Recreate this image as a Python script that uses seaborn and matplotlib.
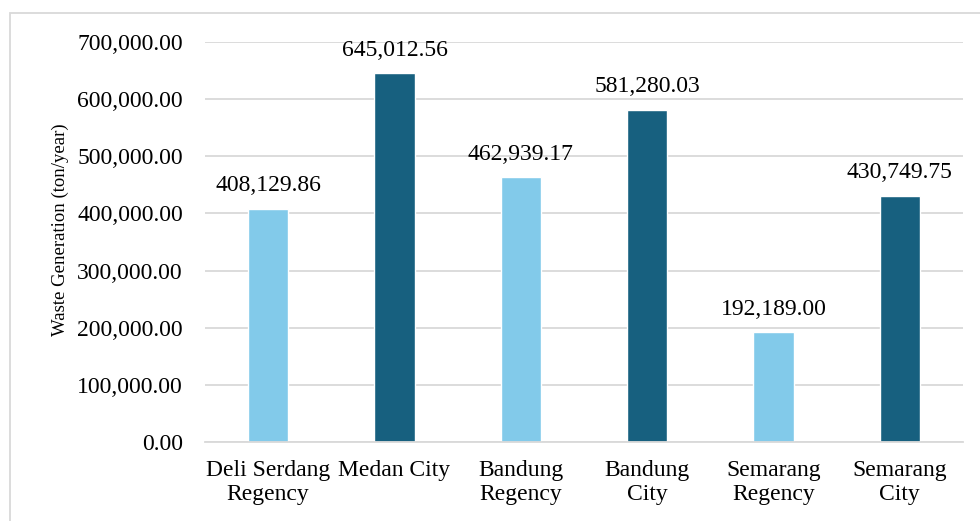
import pandas as pd
import seaborn as sns
import matplotlib.pyplot as plt
from matplotlib.patches import Rectangle

# waste generation per region (ton/year)
regions = ['Deli Serdang\nRegency', 'Medan City', 'Bandung\nRegency',
           'Bandung\nCity', 'Semarang\nRegency', 'Semarang\nCity']
waste = [408129.86, 645012.56, 462939.17, 581280.03, 192189.00, 430749.75]
kind = ['Regency', 'City', 'Regency', 'City', 'Regency', 'City']

df = pd.DataFrame({'region': regions, 'waste': waste, 'kind': kind})

sns.set_style('white')
plt.rcParams['font.family'] = ['Liberation Serif', 'DejaVu Serif']
plt.rcParams['text.color'] = 'black'
plt.rcParams['xtick.color'] = 'black'
plt.rcParams['ytick.color'] = 'black'
plt.rcParams['axes.labelcolor'] = 'black'

fig = plt.figure(figsize=(9.8, 5.21), dpi=100)
ax = fig.add_axes([205/980, 1 - 442/521, (963-205)/980, 400/521])

sns.barplot(data=df, x='region', y='waste', hue='kind',
            palette={'Regency': '#82CAEA', 'City': '#17607F'},
            saturation=1, width=0.317, dodge=False, legend=False, ax=ax)

ax.set_ylim(0, 700000)
ax.set_yticks(range(0, 700001, 100000))
ax.set_yticklabels([f'{v:,.2f}' for v in range(0, 700001, 100000)], fontsize=17)
ax.grid(axis='y', color='#D9D9D9', linewidth=1.3)
ax.set_axisbelow(True)
for s in ['top', 'right', 'left']:
    ax.spines[s].set_visible(False)
ax.spines['bottom'].set_color('#D9D9D9')
ax.spines['bottom'].set_linewidth(1.3)
ax.tick_params(axis='y', length=0, pad=16)
ax.tick_params(axis='x', length=0, pad=13)
for lab in ax.get_xticklabels():
    lab.set_fontsize(17)
    lab.set_linespacing(1.2)

ax.set_xlabel('')
ax.set_ylabel('Waste Generation (ton/year)', fontsize=13.5)
ax.yaxis.set_label_coords(-0.179, 0.53)

for i, v in enumerate(waste):
    ax.annotate(f'{v:,.2f}', (i, v), xytext=(0, 9), textcoords='offset points',
                ha='center', va='bottom', fontsize=17)

fig.patches.append(Rectangle((10/980, -0.1), 1.0, 1.1 - 13/521,
                             transform=fig.transFigure, fill=False,
                             edgecolor='#D9D9D9', linewidth=1.3))

fig.savefig('out.png', dpi=100)
